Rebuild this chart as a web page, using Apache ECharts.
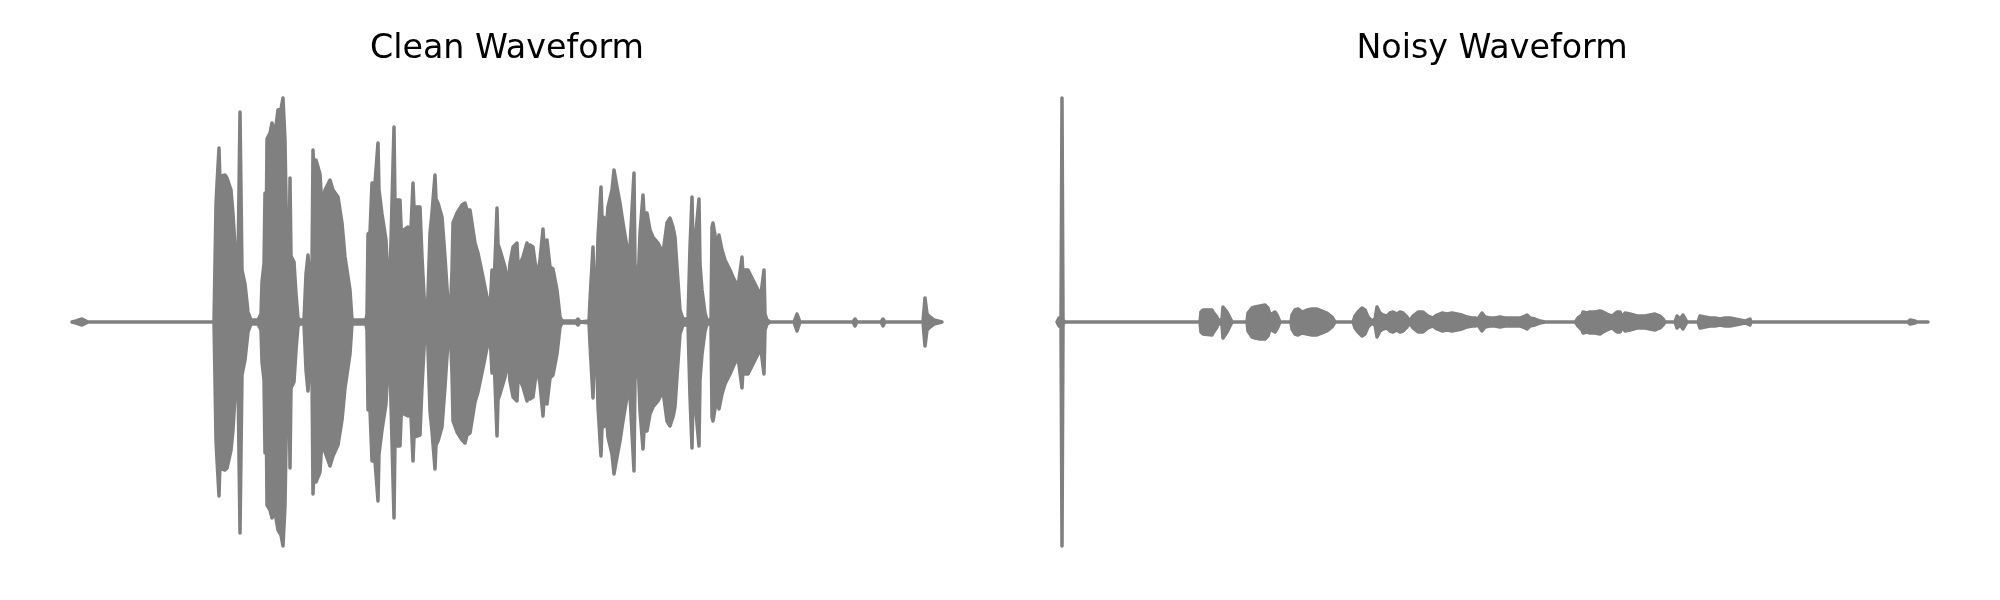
<!DOCTYPE html>
<html>
<head>
<meta charset="utf-8">
<script src="https://cdn.jsdelivr.net/npm/echarts@6/dist/echarts.min.js"></script>
<style>
  html, body { margin: 0; padding: 0; background: #fff; }
  #chart { width: 2000px; height: 600px; }
</style>
</head>
<body>
<div id="chart"></div>
<script>
// Panel titles
const panelTitles = ['Clean Waveform', 'Noisy Waveform'];

// Clean waveform envelope (time in frames, amplitude upper / lower magnitude)
const cleanTime = [0,4,10,16,142,144,145,147,148,150,153,155,159,161,164,166,168,170,173,176,179,186,189,190,192,193,194,195,198,200,203,206,209,211,213,215,217,218,219,222,224,226,228,232,234,236,237,240,241,242,244,248,250,253,258,261,266,270,273,278,280,294,295,296,298,300,303,306,307,310,314,316,317,318,322,323,325,328,330,332,336,338,341,342,348,350,353,355,356,358,360,363,364,366,370,373,376,378,380,381,385,390,393,395,398,403,406,411,415,418,420,422,425,426,428,433,436,438,441,445,446,448,451,455,456,458,461,465,468,471,472,475,478,481,485,488,490,504,506,508,517,518,521,522,525,526,529,530,531,535,536,540,542,545,548,551,555,558,562,563,565,566,568,571,572,575,578,581,586,591,595,598,601,603,605,608,611,616,618,620,621,623,627,628,630,633,635,639,640,641,645,647,650,653,658,661,666,670,671,673,676,681,686,689,692,693,695,698,722,725,728,781,783,785,809,811,813,851,853,855,858,862,866,870];
const cleanUpper = [0,1,3,0,0,118,138,174,140,146,147,144,132,108,60,56,210,52,38,10,2,2,8,40,58,129,68,183,189,199,188,212,213,224,182,63,58,144,66,60,28,4,2,2,48,67,53,56,172,148,162,148,115,132,142,132,125,99,65,32,2,2,8,88,90,139,139,179,132,108,82,42,28,45,195,118,122,122,72,92,95,72,139,115,115,65,9,2,28,89,109,147,123,119,105,65,19,2,52,99,109,117,119,112,112,79,69,45,25,12,52,35,114,78,72,55,35,59,75,79,58,58,65,79,68,77,75,45,62,93,78,82,55,53,32,5,1,1,3,0,1,22,75,45,45,85,135,105,105,102,115,132,152,135,119,99,75,75,149,58,35,38,89,127,109,109,92,85,79,69,99,104,95,85,55,12,3,3,75,125,78,79,123,58,32,9,2,2,95,99,75,87,72,62,52,45,35,65,48,52,52,42,32,28,52,8,2,0,0,8,0,0,3,0,0,3,0,0,24,8,5,2,1,0];
const cleanLower = [0,1,3,0,0,118,138,174,140,147,148,146,128,108,58,56,211,53,38,10,2,2,8,40,58,131,68,183,188,196,190,208,213,224,184,63,60,146,66,60,28,4,2,2,48,69,53,56,172,148,160,150,118,130,144,134,123,98,66,32,2,2,8,88,88,139,139,179,132,108,82,42,28,44,196,118,124,124,72,92,94,72,139,115,113,65,9,2,28,89,109,147,123,119,105,65,19,2,52,99,110,118,121,113,111,80,70,46,26,12,51,35,114,78,72,55,35,59,75,79,58,58,65,79,68,77,75,45,62,94,78,82,56,53,32,5,1,1,3,0,1,22,76,45,45,85,134,105,105,102,115,132,152,135,119,99,75,74,149,58,35,38,89,127,109,109,92,85,79,69,99,104,95,85,55,12,3,3,75,126,78,79,124,58,32,9,2,2,95,99,75,87,72,62,52,45,35,66,48,52,52,42,32,28,52,8,2,0,0,9,0,0,4,0,0,4,0,0,24,8,5,2,1,0];

// Noisy waveform envelope
const noisyTime = [0,2,4,5,6,8,143,144,146,155,156,160,161,165,166,170,173,175,190,191,195,198,203,208,211,213,218,220,223,234,235,238,241,245,250,255,260,265,270,275,278,296,298,301,305,308,311,315,318,320,323,326,330,333,336,340,343,346,350,353,356,361,366,371,376,380,385,390,395,400,405,410,415,418,421,425,428,433,438,443,448,453,458,463,468,470,473,478,483,488,518,519,521,525,526,530,533,538,543,546,550,555,560,563,565,568,573,580,588,593,598,603,606,608,618,620,623,626,630,641,643,648,653,658,663,668,673,678,683,688,693,694,851,853,858,860,871];
const noisyUpper = [0,4,2,224,2,0,0,10,12,12,10,5,1,3,15,10,4,0,0,9,14,15,16,17,14,7,10,7,0,0,7,12,13,10,12,13,13,11,9,5,0,0,6,10,14,12,5,1,3,15,9,7,6,9,10,8,10,9,5,1,6,10,10,6,4,7,9,8,9,8,7,5,4,4,3,9,5,4,4,5,4,4,4,4,6,7,4,3,1,0,0,1,4,7,10,9,10,10,11,10,8,6,10,10,5,9,8,6,6,7,8,6,3,0,0,6,3,7,0,0,6,5,4,4,3,4,4,3,2,1,3,0,0,2,1,0,0];
const noisyLower = [0,4,2,224,2,0,0,10,12,13,11,5,1,3,16,10,4,0,0,9,15,16,17,17,14,7,10,7,0,0,7,12,13,11,12,13,13,11,9,5,0,0,6,10,14,12,5,1,3,15,9,7,6,9,10,8,10,9,5,1,6,10,10,6,4,7,9,8,9,8,7,5,4,4,3,9,5,4,4,5,4,4,4,4,6,7,4,3,1,0,0,1,4,8,11,10,11,11,12,10,8,6,10,10,5,9,8,6,6,7,8,6,3,0,0,6,3,7,0,0,6,5,4,4,3,4,4,3,2,1,3,0,0,2,1,0,0];

const GRAY = '#808080';

// Each item: [time, upper, -lower]
function rows(t, up, lo) {
  return t.map((x, i) => [x, up[i], -lo[i]]);
}

// Draw the whole waveform envelope as one filled polygon, positioned through the axes
function waveformSeries(idx, data) {
  return {
    type: 'custom',
    xAxisIndex: idx,
    yAxisIndex: idx,
    data: data,
    encode: { x: 0, y: [1, 2] },
    animation: false,
    silent: true,
    renderItem: function (params, api) {
      if (params.dataIndex !== 0) return null;
      const pts = [];
      for (let i = 0; i < data.length; i++) pts.push(api.coord([data[i][0], data[i][1]]));
      for (let i = data.length - 1; i >= 0; i--) pts.push(api.coord([data[i][0], data[i][2]]));
      return {
        type: 'polygon',
        shape: { points: pts },
        style: { fill: GRAY, stroke: GRAY, lineWidth: 3.5, lineJoin: 'round' }
      };
    }
  };
}

const chart = echarts.init(document.getElementById('chart'), null, { renderer: 'canvas' });

const titleStyle = { fontFamily: 'DejaVu Sans', fontSize: 33.3, fontWeight: 'normal', color: '#000' };

chart.setOption({
  backgroundColor: '#ffffff',
  animation: false,
  title: [
    { text: panelTitles[0], left: 502, top: 28, textAlign: 'center', textStyle: titleStyle },
    { text: panelTitles[1], left: 1487, top: 28, textAlign: 'center', textStyle: titleStyle }
  ],
  grid: [
    { left: 72, top: 72, width: 870, height: 500 },
    { left: 1057, top: 72, width: 871, height: 500 }
  ],
  xAxis: [
    { type: 'value', gridIndex: 0, min: 0, max: 870, show: false },
    { type: 'value', gridIndex: 1, min: 0, max: 871, show: false }
  ],
  yAxis: [
    { type: 'value', gridIndex: 0, min: -250, max: 250, show: false },
    { type: 'value', gridIndex: 1, min: -250, max: 250, show: false }
  ],
  series: [
    waveformSeries(0, rows(cleanTime, cleanUpper, cleanLower)),
    waveformSeries(1, rows(noisyTime, noisyUpper, noisyLower))
  ]
});
</script>
</body>
</html>
